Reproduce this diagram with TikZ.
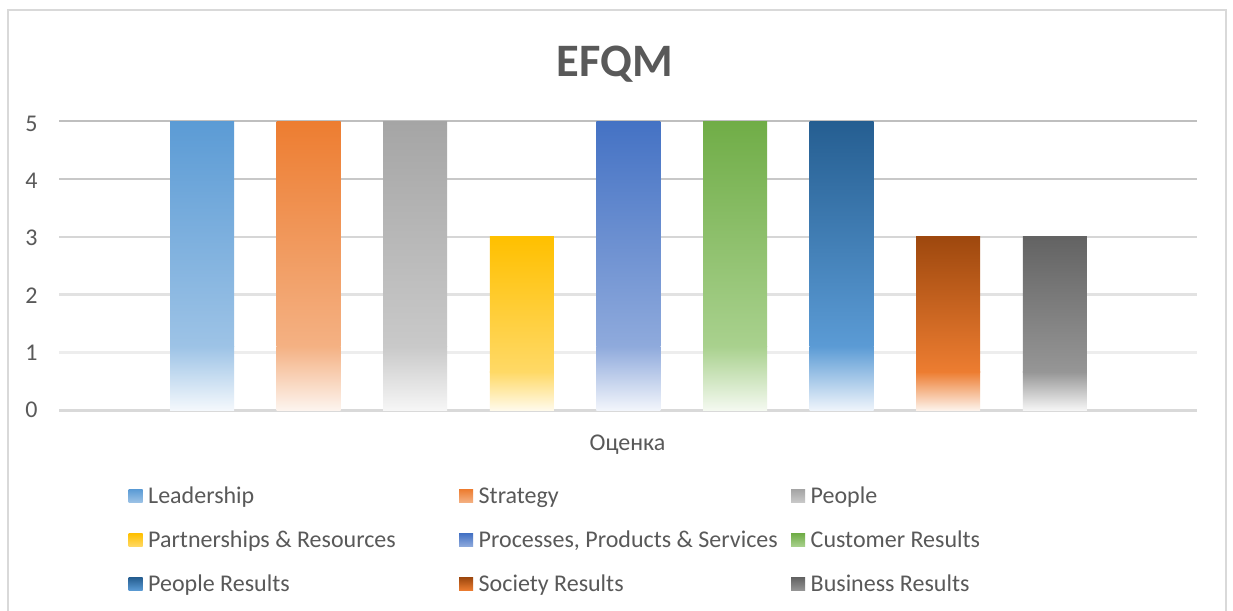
\documentclass[tikz,border=0pt]{standalone}
\usepackage{fontspec}
\setmainfont{Carlito}
\definecolor{txt}{HTML}{595959}
\definecolor{frm}{HTML}{D9D9D9}
\definecolor{g5}{HTML}{BFBFBF}
\definecolor{g4}{HTML}{C8C8C8}
\definecolor{g3}{HTML}{D6D6D6}
\definecolor{g2}{HTML}{E2E2E2}
\definecolor{g1}{HTML}{EDEDED}
\definecolor{g0}{HTML}{D9D9D9}
\definecolor{c1t}{HTML}{5B9BD5}\definecolor{c1m}{HTML}{9DC3E6}\definecolor{c1b}{HTML}{F4F8FC}
\definecolor{c2t}{HTML}{ED7D31}\definecolor{c2m}{HTML}{F4B183}\definecolor{c2b}{HTML}{FDF4EE}
\definecolor{c3t}{HTML}{A5A5A5}\definecolor{c3m}{HTML}{C9C9C9}\definecolor{c3b}{HTML}{F6F6F6}
\definecolor{c4t}{HTML}{FFC000}\definecolor{c4m}{HTML}{FFD966}\definecolor{c4b}{HTML}{FFFAEA}
\definecolor{c5t}{HTML}{4472C4}\definecolor{c5m}{HTML}{8FAADC}\definecolor{c5b}{HTML}{F2F5FB}
\definecolor{c6t}{HTML}{70AD47}\definecolor{c6m}{HTML}{A9D18E}\definecolor{c6b}{HTML}{F4F9F0}
\definecolor{c7t}{HTML}{255E91}\definecolor{c7m}{HTML}{5B9BD5}\definecolor{c7b}{HTML}{EEF4FB}
\definecolor{c8t}{HTML}{9E480E}\definecolor{c8m}{HTML}{ED7D31}\definecolor{c8b}{HTML}{FDF2EA}
\definecolor{c9t}{HTML}{636363}\definecolor{c9m}{HTML}{969696}\definecolor{c9b}{HTML}{F5F5F5}
\tikzset{
  lbl/.style={text=txt, font=\fontsize{24}{28}\selectfont, inner sep=0pt},
  ttl/.style={text=txt, font=\fontsize{46.5}{52}\selectfont\bfseries, inner sep=0pt},
  frameline/.style={draw=frm, line width=2pt},
  gridline/.style={line width=2.5pt}
}
\begin{document}
\begin{tikzpicture}[x=1pt,y=-1pt]
\useasboundingbox (0,0) rectangle (1233,610);
\fill[white] (0,0) rectangle (1233,610);
\draw[frameline] (7.5,615) -- (7.5,10) -- (1226,10) -- (1226,615);
% title
\node[ttl, anchor=base] (title) at (614.5,77) {EFQM};
% gridlines and axis labels
\foreach \v/\c in {5/g5,4/g4,3/g3,2/g2,1/g1,0/g0}{
  \draw[gridline, \c] (59,{410.5-57.9*\v}) -- (1197,{410.5-57.9*\v});
  \node[lbl, anchor=center] (ylab\v) at (31.5,{409.5-57.1*\v}) {\v};
}
% bars
\foreach \i/\v/\n in {0/5/1,1/5/2,2/5/3,3/3/4,4/5/5,5/5/6,6/5/7,7/3/8,8/3/9}{
  \pgfmathsetmacro\xl{170+106.6*\i}
  \pgfmathsetmacro\yt{410.5-57.9*\v}
  \pgfmathsetmacro\ym{410.5-57.9*\v*0.22}
  \shade[top color=c\n m, bottom color=c\n b] (\xl,{\ym-0.5}) rectangle ({\xl+64},410);
  \shade[top color=c\n t, bottom color=c\n m] (\xl,\yt) rectangle ({\xl+64},\ym);
}
% axis title
\node[lbl, anchor=base] (axt) at (627.5,450) {Оценка};
% legend
\foreach \n/\x/\y/\t in {
  1/128.5/503.5/Leadership,
  2/459/503.5/Strategy,
  3/791/503.5/People,
  4/128.5/547.5/Partnerships \& Resources,
  5/459/547.5/{Processes, Products \& Services},
  6/791/547.5/Customer Results,
  7/128.5/591.5/People Results,
  8/459/591.5/Society Results,
  9/791/591.5/Business Results}{
  \shade[top color=c\n t, bottom color=c\n m] (\x,{\y-14}) rectangle ({\x+14},{\y-1});
  \node[lbl, anchor=base west] (leg\n) at ({\x+19.5},\y) {\t};
}
\end{tikzpicture}
\end{document}
